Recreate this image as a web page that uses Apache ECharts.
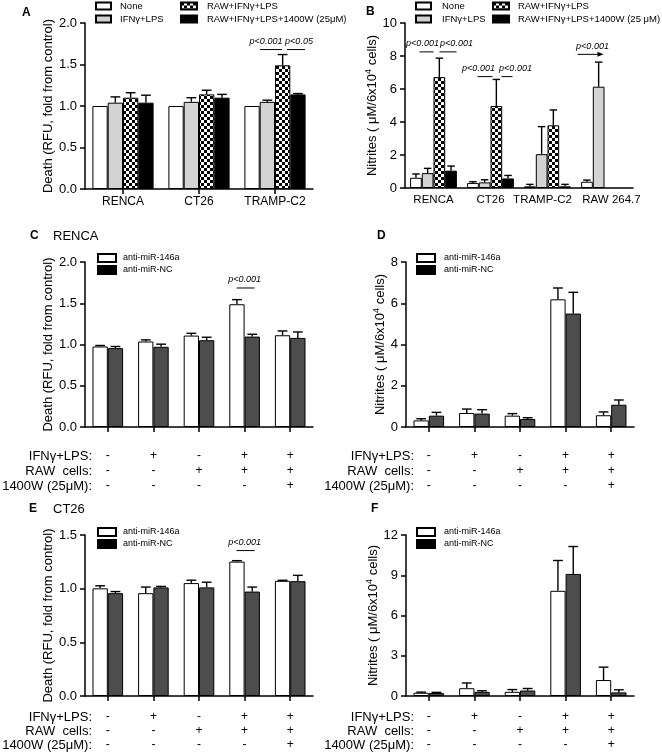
<!DOCTYPE html>
<html><head><meta charset="utf-8">
<script src="https://cdn.jsdelivr.net/npm/echarts@6/dist/echarts.min.js"></script>
<style>html,body{margin:0;padding:0;background:#fff}#c{width:662px;height:752px}</style>
</head><body><div id="c"></div>
<script>
// ---------------- DATA ----------------
const catsA = ['RENCA', 'CT26', 'TRAMP-C2'];
const catsB = ['RENCA', 'CT26', 'TRAMP-C2', 'RAW 264.7'];
const namesA = ['None', 'IFNγ+LPS', 'RAW+IFNγ+LPS', 'RAW+IFNγ+LPS+1400W (25μM)'];
const namesB = ['None', 'IFNγ+LPS', 'RAW+IFNγ+LPS', 'RAW+IFNγ+LPS+1400W (25 μM)'];

// Panel A – Death (RFU, fold from control)
const aNone = [1.00, 1.00, 1.00];      const aNoneErr = [0, 0, 0];
const aIfn  = [1.04, 1.05, 1.05];      const aIfnErr  = [0.07, 0.05, 0.02];
const aRaw  = [1.10, 1.14, 1.49];      const aRawErr  = [0.06, 0.05, 0.13];
const aW    = [1.04, 1.10, 1.14];      const aWErr    = [0.09, 0.04, 0.01];

// Panel B – Nitrites
const bNone = [0.62, 0.30, 0.10, 0.38]; const bNoneErr = [0.23, 0.08, 0.12, 0.10];
const bIfn  = [0.90, 0.34, 2.05, 6.14]; const bIfnErr  = [0.29, 0.16, 1.67, 1.49];
const bRaw  = [6.72, 4.97, 3.80, null]; const bRawErr  = [1.15, 1.61, 0.93, null];
const bW    = [1.05, 0.58, 0.10, null]; const bWErr    = [0.28, 0.18, 0.12, null];

// Condition rows for panels C–F
const rowIFN   = ['-', '+', '-', '+', '+'];
const rowRAW   = ['-', '-', '+', '+', '+'];
const row1400W = ['-', '-', '-', '-', '+'];
const rowHeaders = ['IFNγ+LPS:', 'RAW  cells:', '1400W (25μM):'];
const namesCF = ['anti-miR-146a', 'anti-miR-NC'];

// Panel C – RENCA death
const cAnti = [0.976, 1.036, 1.108, 1.488, 1.112]; const cAntiErr = [0.012, 0.020, 0.028, 0.056, 0.052];
const cNC   = [0.956, 0.972, 1.052, 1.096, 1.080]; const cNCErr   = [0.020, 0.032, 0.036, 0.028, 0.072];
// Panel D – RENCA nitrites
const dAnti = [0.32, 0.68, 0.55, 6.19, 0.57]; const dAntiErr = [0.08, 0.19, 0.10, 0.55, 0.16];
const dNC   = [0.55, 0.65, 0.39, 5.50, 1.08]; const dNCErr   = [0.16, 0.19, 0.06, 1.03, 0.23];
// Panel E – CT26 death
const eAnti = [1.003, 0.958, 1.052, 1.252, 1.073]; const eAntiErr = [0.024, 0.057, 0.027, 0.009, 0.005];
const eNC   = [0.958, 1.012, 1.012, 0.973, 1.070]; const eNCErr   = [0.015, 0.009, 0.048, 0.042, 0.054];
// Panel F – CT26 nitrites
const fAnti = [0.24, 0.58, 0.31, 7.84, 1.19]; const fAntiErr = [0.05, 0.39, 0.17, 2.26, 0.96];
const fNC   = [0.22, 0.31, 0.41, 9.10, 0.27]; const fNCErr   = [0.05, 0.08, 0.15, 2.04, 0.19];

// ---------------- CHART ----------------
const FONT = "'Liberation Sans', Arial, Helvetica, sans-serif";
const catsCF = rowIFN.map((v, i) => [v, rowRAW[i], row1400W[i]].join('\n'));

function checker() {
  const c = document.createElement('canvas'); c.width = 6; c.height = 6;
  const x = c.getContext('2d');
  x.fillStyle = '#fff'; x.fillRect(0, 0, 6, 6);
  x.fillStyle = '#000'; x.fillRect(0, 0, 3, 3); x.fillRect(3, 3, 3, 3);
  return c;
}
const PAT = { image: checker(), repeat: 'repeat' };
const LIGHT = '#d3d3d3', DARK = '#4d4d4d';

const grids = [
  { left: 85,  top: 23,  width: 228, height: 166 },
  { left: 405, top: 23,  width: 228, height: 165 },
  { left: 85,  top: 262, width: 228, height: 165 },
  { left: 406, top: 262, width: 228, height: 165 },
  { left: 85,  top: 535, width: 228, height: 165 },
  { left: 406, top: 535, width: 228, height: 165 }
];
const xAxes = [], yAxes = [], series = [];

function errSeries(g, vals, errs, idx, n, bw) {
  const data = [];
  vals.forEach((v, i) => { if (v != null && errs[i] > 0) data.push([i, v, v + errs[i]]); });
  return {
    type: 'custom', xAxisIndex: g, yAxisIndex: g, z: 3, silent: true,
    encode: { x: 0, y: [1, 2] }, data,
    renderItem(params, api) {
      const b = api.coord([api.value(0), api.value(1)]);
      const t = api.coord([api.value(0), api.value(2)]);
      const x = b[0] + (idx - (n - 1) / 2) * bw;
      const cap = bw * 0.32;
      return { type: 'group', children: [
        { type: 'line', shape: { x1: x, y1: b[1], x2: x, y2: t[1] }, style: { stroke: '#000', lineWidth: 1.4 } },
        { type: 'line', shape: { x1: x - cap, y1: t[1], x2: x + cap, y2: t[1] }, style: { stroke: '#000', lineWidth: 1.4 } }
      ]};
    }
  };
}

function addPanel(g, cats, xo, yo, bars, bw) {
  xAxes.push({
    type: 'category', gridIndex: g, data: cats,
    axisLine: { lineStyle: { color: '#000', width: 1.5 } },
    axisTick: { show: xo.tick, alignWithLabel: true, length: 5, lineStyle: { color: '#000', width: 1.5 } },
    axisLabel: { interval: 0, color: '#000', fontSize: xo.fs || 12, fontFamily: FONT, margin: xo.margin, lineHeight: xo.lh }
  });
  yAxes.push({
    type: 'value', gridIndex: g, min: 0, max: yo.max, interval: yo.interval,
    axisLine: { show: true, lineStyle: { color: '#000', width: 1.5 } },
    axisTick: { show: true, length: 5, lineStyle: { color: '#000', width: 1.5 } },
    splitLine: { show: false },
    axisLabel: { color: '#000', fontSize: 13, fontFamily: FONT, margin: 8,
      formatter: v => yo.dec ? v.toFixed(yo.dec) : String(v) },
    name: yo.name, nameLocation: 'middle', nameGap: yo.gap,
    nameTextStyle: { color: '#000', fontSize: 13, fontFamily: FONT,
      rich: { n: { fontSize: 13, fontFamily: FONT, color: '#000', lineHeight: 16 },
              s: { fontSize: 9, fontFamily: FONT, color: '#000', verticalAlign: 'top', lineHeight: 16 } } }
  });
  const n = bars.length;
  bars.forEach((b, i) => {
    series.push({
      type: 'bar', name: b.name, xAxisIndex: g, yAxisIndex: g,
      data: b.v.map(v => v == null ? '-' : v),
      barWidth: bw, barGap: '0%',
      itemStyle: { color: b.c, borderColor: '#000', borderWidth: 1 },
      emphasis: { disabled: true }, silent: true
    });
    series.push(errSeries(g, b.v, b.e, i, n, bw));
  });
}

const nitName = '{n|Nitrites ( μM/6x10}{s|4}{n| cells)}';
const deathName = 'Death (RFU, fold from control)';

// B labels: slight label shifts as in the original figure
const bLabelPad = [[0, 0, 0, 0], [0, 0, 0, 0], [0, 10, 0, 0], [0, 0, 0, 14]];
const catsBItems = catsB.map((c, i) => ({ value: c, textStyle: { padding: bLabelPad[i] } }));

addPanel(0, catsA, { tick: true, margin: 7 }, { max: 2, interval: 0.5, dec: 1, name: deathName, gap: 30 }, [
  { name: namesA[0], v: aNone, e: aNoneErr, c: '#fff' },
  { name: namesA[1], v: aIfn, e: aIfnErr, c: LIGHT },
  { name: namesA[2], v: aRaw, e: aRawErr, c: PAT },
  { name: namesA[3], v: aW, e: aWErr, c: '#000' }], 15.3);
addPanel(1, catsBItems, { tick: false, margin: 6, fs: 11.5 }, { max: 10, interval: 2, dec: 0, name: nitName, gap: 16 }, [
  { name: namesB[0], v: bNone, e: bNoneErr, c: '#fff' },
  { name: namesB[1], v: bIfn, e: bIfnErr, c: LIGHT },
  { name: namesB[2], v: bRaw, e: bRawErr, c: PAT },
  { name: namesB[3], v: bW, e: bWErr, c: '#000' }], 11.7);
const cdX = { tick: true, margin: 21.5, lh: 15 };
const efX = { tick: true, margin: 14, lh: 14 };
addPanel(2, catsCF, cdX, { max: 2, interval: 0.5, dec: 1, name: deathName, gap: 28 }, [
  { name: namesCF[0], v: cAnti, e: cAntiErr, c: '#fff' },
  { name: namesCF[1], v: cNC, e: cNCErr, c: DARK }], 15.3);
addPanel(3, catsCF, cdX, { max: 8, interval: 2, dec: 0, name: nitName, gap: 17 }, [
  { name: namesCF[0], v: dAnti, e: dAntiErr, c: '#fff' },
  { name: namesCF[1], v: dNC, e: dNCErr, c: DARK }], 15.3);
addPanel(4, catsCF, efX, { max: 1.5, interval: 0.5, dec: 1, name: deathName, gap: 28 }, [
  { name: namesCF[0], v: eAnti, e: eAntiErr, c: '#fff' },
  { name: namesCF[1], v: eNC, e: eNCErr, c: DARK }], 15.3);
addPanel(5, catsCF, efX, { max: 12, interval: 3, dec: 0, name: nitName, gap: 17 }, [
  { name: namesCF[0], v: fAnti, e: fAntiErr, c: '#fff' },
  { name: namesCF[1], v: fNC, e: fNCErr, c: DARK }], 15.3);

function lg(left, top, data, iw, ih, lh, pad, fs) {
  return { orient: 'vertical', left, top, data, itemWidth: iw, itemHeight: ih, itemGap: 1,
    icon: 'rect', selectedMode: false, padding: 0,
    textStyle: { fontSize: fs, fontFamily: FONT, color: '#000', lineHeight: lh, padding: [0, 0, 0, pad] } };
}
const ncLegend = { name: namesCF[1], itemStyle: { color: '#000' } };
const legends = [
  lg(95, 0, [namesA[0], namesA[1]], 15, 7, 12, 4, 9.5),
  lg(180, 0, [namesA[2], namesA[3]], 16, 7, 12, 5, 9.5),
  lg(415, 0, [namesB[0], namesB[1]], 15, 7, 12, 6, 9.5),
  lg(492, 0, [namesB[2], namesB[3]], 16, 7, 12, 4, 9.5),
  lg(97, 252.5, [namesCF[0], ncLegend], 18, 8, 11, 2, 9),
  lg(416, 252.5, [namesCF[0], ncLegend], 18, 8, 11, 4, 9),
  lg(97, 526.5, [namesCF[0], ncLegend], 18, 8, 11, 2, 9),
  lg(416, 526.5, [namesCF[0], ncLegend], 18, 8, 11, 4, 9)
];

const chart = echarts.init(document.getElementById('c'), null, { renderer: 'canvas' });
chart.setOption({
  animation: false, backgroundColor: '#fff',
  textStyle: { fontFamily: FONT },
  grid: grids, xAxis: xAxes, yAxis: yAxes, legend: legends, series
});

// ---------------- ANNOTATIONS ----------------
const annotations = [
  { g: 0, cat: 2, y: 1.68, lines: [[-15, 7], [12, 30]], texts: [['p<0.001', -9], ['p<0.05', 24]] },
  { g: 1, cat: 0, y: 8.25, lines: [[-14, 0], [6, 23]], texts: [['p<0.001', -11], ['p<0.001', 23]] },
  { g: 1, cat: 1, y: 6.75, lines: [[-13, 2], [11, 22]], texts: [['p<0.001', -12], ['p<0.001', 25]] },
  { g: 1, cat: 3, y: 8.1, lines: [[-27, -4]], arrow: true, texts: [['p<0.001', -12]] },
  { g: 2, cat: 3, y: 1.685, lines: [[-8, 10]], texts: [['p<0.001', 0]] },
  { g: 4, cat: 3, y: 1.355, lines: [[-8, 10]], texts: [['p<0.001', 0]] }
];
const gfx = [];
function txt(x, y, text, font, align) {
  return { type: 'text', x, y, silent: true,
    style: { text, font, fill: '#000', align: align || 'left', verticalAlign: 'middle',
      textAlign: align || 'left', textVerticalAlign: 'middle' } };
}
annotations.forEach(a => {
  const p = chart.convertToPixel({ gridIndex: a.g }, [a.cat, a.y]);
  a.lines.forEach(l => {
    gfx.push({ type: 'line', silent: true, shape: { x1: p[0] + l[0], y1: p[1], x2: p[0] + l[1], y2: p[1] },
      style: { stroke: '#000', lineWidth: 1 } });
    if (a.arrow) {
      const xe = p[0] + l[1];
      gfx.push({ type: 'polygon', silent: true, shape: { points: [[xe + 3, p[1]], [xe - 3, p[1] - 2.5], [xe - 3, p[1] + 2.5]] },
        style: { fill: '#000' } });
    }
  });
  a.texts.forEach(t => gfx.push(txt(p[0] + t[1], p[1] - 8, t[0], 'italic 9px ' + FONT, 'center')));
});

// panel titles
gfx.push(txt(22, 13, 'A', 'bold 12px ' + FONT));
gfx.push(txt(366, 12, 'B', 'bold 12px ' + FONT));
gfx.push(txt(30, 236, 'C', 'bold 12px ' + FONT));
gfx.push(txt(53, 236, 'RENCA', '13px ' + FONT));
gfx.push(txt(377, 236, 'D', 'bold 12px ' + FONT));
gfx.push(txt(29, 509, 'E', 'bold 12px ' + FONT));
gfx.push(txt(53, 509, 'CT26', '13px ' + FONT));
gfx.push(txt(371, 509, 'F', 'bold 12px ' + FONT));

// condition row headers aligned to the axis label rows
[[2, 92, cdX], [3, 414, cdX], [4, 92, efX], [5, 414, efX]].forEach(([g, xr, xo]) => {
  const axisY = chart.convertToPixel({ gridIndex: g }, [0, 0])[1];
  rowHeaders.forEach((h, k) => gfx.push(txt(xr, axisY + xo.margin + xo.lh * (k + 0.5), h, '13px ' + FONT, 'right')));
});

chart.setOption({ graphic: gfx });
</script>
</body></html>
